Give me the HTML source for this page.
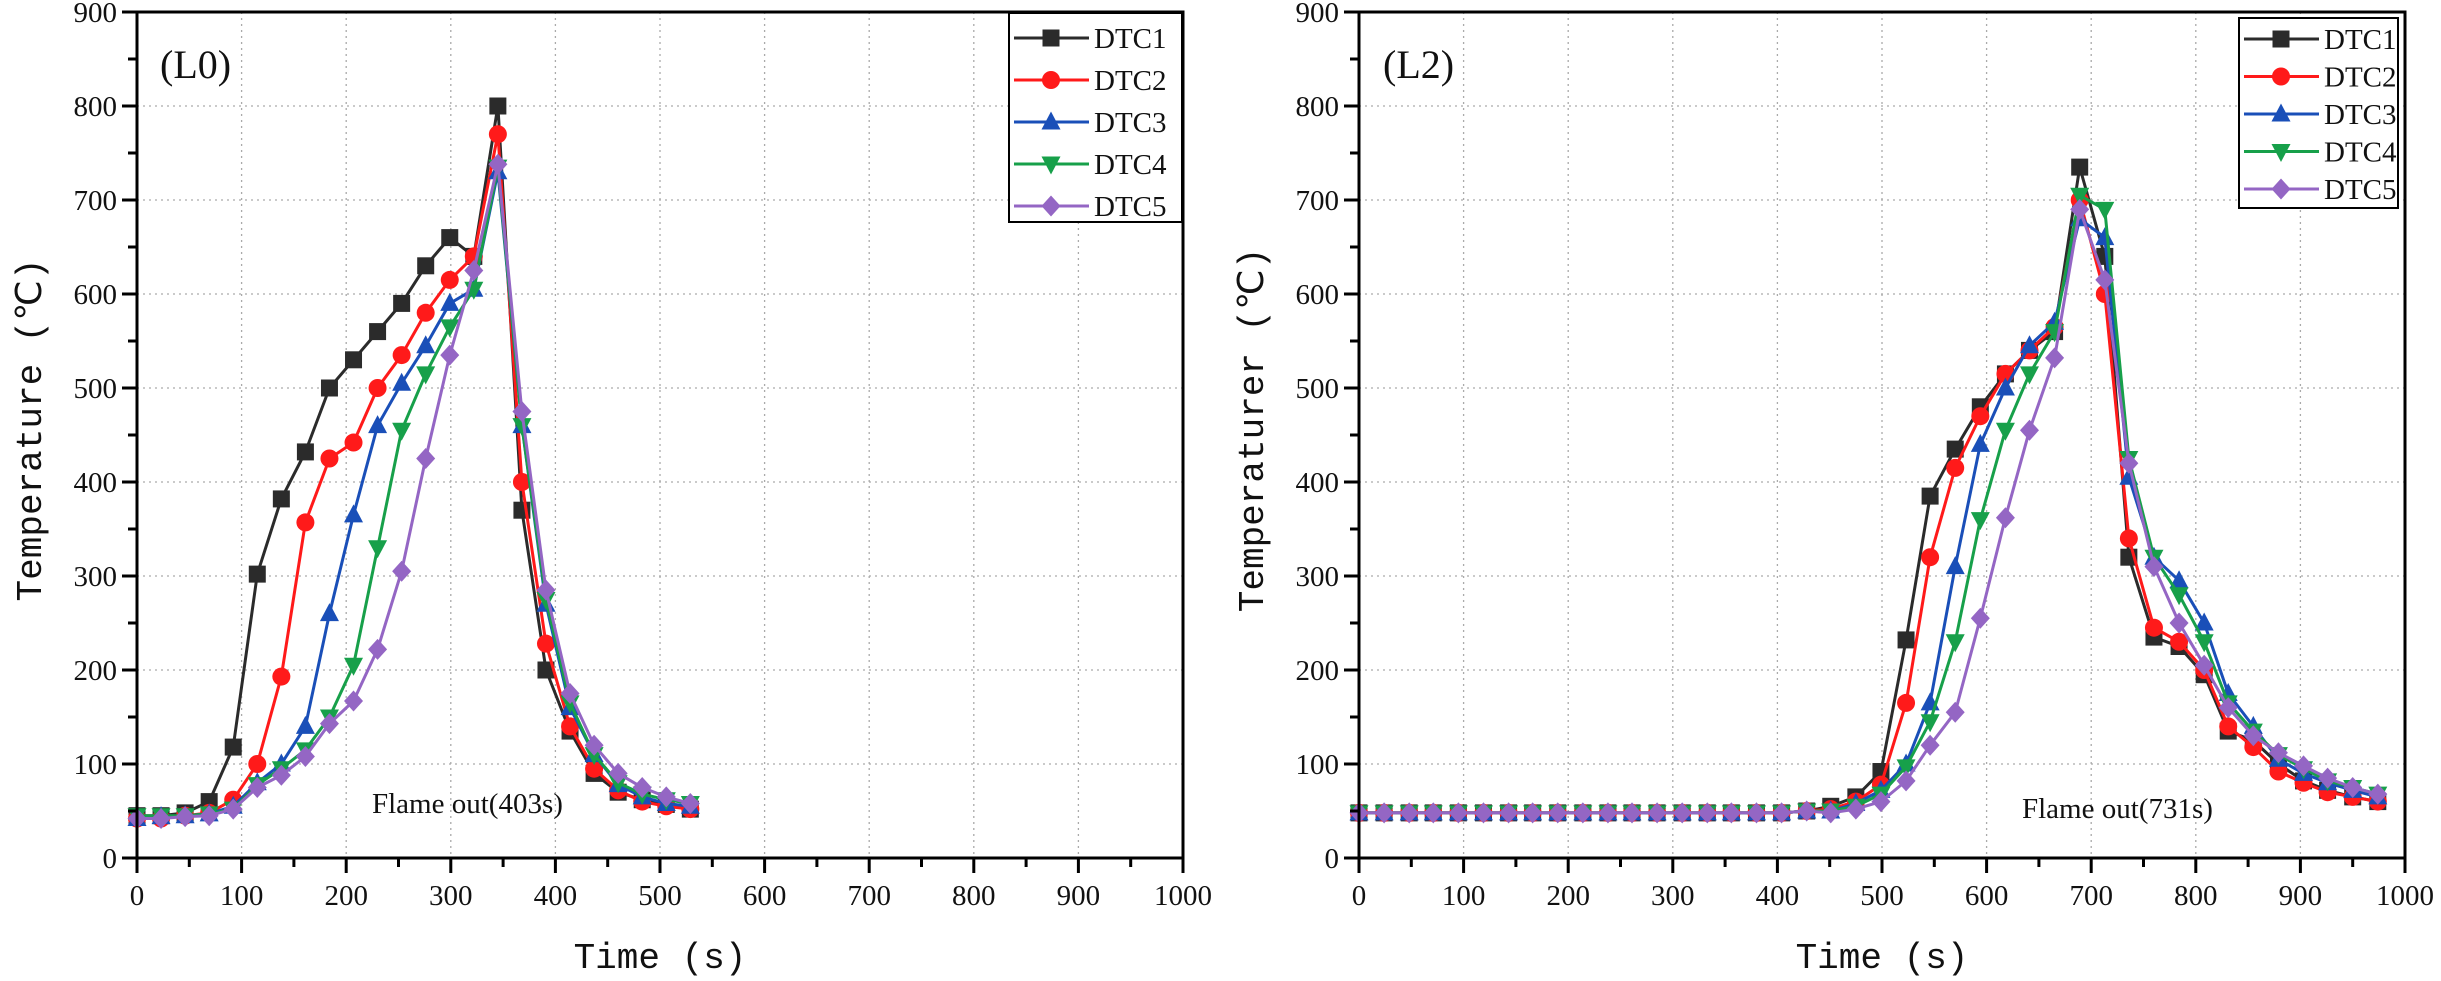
<!DOCTYPE html>
<html><head><meta charset="utf-8"><style>
html,body{margin:0;padding:0;background:#fff;}
svg{display:block;font-family:"Liberation Serif",serif;}
</style></head><body>
<svg id="c" width="2441" height="981" viewBox="0 0 2441 981" xmlns="http://www.w3.org/2000/svg"></svg>
<script>
const xTicks=[0,100,200,300,400,500,600,700,800,900,1000];
const yTicks=[0,100,200,300,400,500,600,700,800,900];
const seriesNames=["DTC1","DTC2","DTC3","DTC4","DTC5"];
const leftTimes=[0,23,46,69,92,115,138,161,184,207,230,253,276,299,322,345,368,391,414,437,460,483,506,529];
const leftDTC1=[45,45,48,60,118,302,382,432,500,530,560,590,630,660,640,800,370,200,135,90,70,62,57,52];
const leftDTC2=[42,42,45,48,62,100,193,357,425,442,500,535,580,615,640,770,400,228,140,95,72,60,55,52];
const leftDTC3=[42,44,45,47,55,80,100,140,260,365,460,505,545,590,605,730,460,270,160,110,78,65,58,55];
const leftDTC4=[45,45,45,47,52,78,95,115,150,205,330,455,515,565,605,735,460,275,165,110,80,68,62,58];
const leftDTC5=[42,42,44,45,52,75,88,108,143,167,222,305,425,535,625,738,475,285,175,120,90,75,65,58];
const rightTimes=[0,24,48,71,95,119,143,166,190,214,238,261,285,309,333,356,380,404,428,451,475,499,523,546,570,594,618,641,665,689,713,736,760,784,808,831,855,879,903,926,950,974];
const flat=[48,48,48,48,48,48,48,48,48,48,48,48,48,48,48,48,48,48,50];
const rightDTC1=flat.concat([55,65,92,232,385,435,480,515,540,560,735,640,320,235,225,195,135,125,100,82,72,65,60]);
const rightDTC2=flat.concat([52,60,78,165,320,415,470,515,540,565,700,600,340,245,230,200,140,118,92,80,70,65,60]);
const rightDTC3=flat.concat([50,58,72,100,165,310,440,500,545,570,680,660,405,320,295,250,175,140,105,90,80,72,65]);
const rightDTC4=flat.concat([50,55,68,97,145,230,360,455,515,560,705,690,425,320,280,230,165,135,110,95,82,75,68]);
const rightDTC5=flat.concat([48,52,60,82,120,155,255,362,455,532,690,615,420,310,250,205,160,130,112,98,85,75,68]);

const colors=["#2b2b2b","#ff1a1a","#1a4fb8","#17a04a","#9466c4"];
const shapes=["square","circle","triangle","tridown","diamond"];
const NS="http://www.w3.org/2000/svg";
const svg=document.getElementById("c");
function el(tag,attrs,parent,text){const e=document.createElementNS(NS,tag);for(const k in attrs)e.setAttribute(k,attrs[k]);if(text!==undefined)e.textContent=text;(parent||svg).appendChild(e);return e;}
function marker(g,shape,x,y,c){let m;const r=8.5;
 if(shape==="square")m=el("rect",{x:x-r,y:y-r,width:2*r,height:2*r,fill:c},g);
 else if(shape==="circle")m=el("circle",{cx:x,cy:y,r:r+0.5,fill:c},g);
 else if(shape==="triangle")m=el("polygon",{points:`${x},${y-r-2} ${x-r-1},${y+r-1} ${x+r+1},${y+r-1}`,fill:c},g);
 else if(shape==="tridown")m=el("polygon",{points:`${x},${y+r+2} ${x-r-1},${y-r+1} ${x+r+1},${y-r+1}`,fill:c},g);
 else m=el("polygon",{points:`${x},${y-r-2} ${x+r+1},${y} ${x},${y+r+2} ${x-r-1},${y}`,fill:c},g);
 
 
}
function chart(cfg){
 const X0=cfg.x0,X1=cfg.x1,Y0=858,Y1=12;
 const sx=t=>X0+(t/1000)*(X1-X0), sy=v=>Y0-(v/900)*(Y0-Y1);
 const g=el("g",{});
 
 
 xTicks.forEach(t=>{if(t>0&&t<1000){const l=el("line",{x1:sx(t),x2:sx(t),y1:Y1,y2:Y0,stroke:"#aaa","stroke-width":1.3,"stroke-dasharray":"2 4"},g);}});
 yTicks.forEach(v=>{if(v>0&&v<900){const l=el("line",{x1:X0,x2:X1,y1:sy(v),y2:sy(v),stroke:"#aaa","stroke-width":1.3,"stroke-dasharray":"2 4"},g);}});
 cfg.series.forEach((vals,i)=>{
  const sg=el("g",{},g);
  
  
  const pts=vals.map((v,k)=>sx(cfg.times[k]).toFixed(1)+","+sy(v).toFixed(1)).join(" ");
  const pl=el("polyline",{points:pts,fill:"none",stroke:colors[i],"stroke-width":3,"stroke-linejoin":"round"},sg);
  
  
  vals.forEach((v,k)=>marker(sg,shapes[i],sx(cfg.times[k]),sy(v),colors[i]));
 });
 const fr=el("rect",{x:X0,y:Y1,width:X1-X0,height:Y0-Y1,fill:"none",stroke:"#000","stroke-width":3},g);
 
 
 for(let t=0;t<=1000;t+=50){const maj=t%100===0;const l=el("line",{x1:sx(t),x2:sx(t),y1:Y0,y2:Y0+(maj?15:9),stroke:"#000","stroke-width":3},g);}
 for(let v=0;v<=900;v+=50){const maj=v%100===0;const l=el("line",{x1:X0-(maj?15:9),x2:X0,y1:sy(v),y2:sy(v),stroke:"#000","stroke-width":3},g);}
 xTicks.forEach(t=>{const tx=el("text",{x:sx(t),y:Y0+47,"font-size":29,"text-anchor":"middle",fill:"#111"},g,String(t));});
 yTicks.forEach(v=>{const tx=el("text",{x:X0-20,y:sy(v)+10,"font-size":29,"text-anchor":"end",fill:"#111"},g,String(v));});
 const xt=el("text",{x:(X0+X1)/2,y:968,"font-size":36,"text-anchor":"middle","font-family":"Liberation Mono, monospace",fill:"#111"},g,"Time (s)");
 
 const yt=el("text",{x:0,y:0,"font-size":36,"text-anchor":"middle","font-family":"Liberation Mono, monospace",fill:"#111",transform:`translate(${X0-96},${cfg.ytitleY}) rotate(-90)`},g,cfg.ytitle);
 
 const pl=el("text",{x:cfg.labelX,y:78,"font-size":40,fill:"#111"},g,cfg.label);
 
 const fo=el("text",{x:cfg.foX,y:cfg.foY,"font-size":29,fill:"#111"},g,cfg.fo);
 
 const lg=el("g",{},g);
 
 
 const L=cfg.leg;
 el("rect",{x:L.x,y:L.y,width:L.w,height:L.h,fill:"#fff",stroke:"#000","stroke-width":2},lg);
 seriesNames.forEach((n,i)=>{const yy=L.y+L.first+i*L.step;
  const e=el("g",{},lg);
  
  
  el("line",{x1:L.x+5,x2:L.x+80,y1:yy,y2:yy,stroke:colors[i],"stroke-width":3},e);
  marker(e,shapes[i],L.x+42,yy,colors[i]);
  el("text",{x:L.x+85,y:yy+10,"font-size":29,fill:"#111"},e,n);
 });
}
chart({name:"chart-l0",x0:137,x1:1183,times:leftTimes,series:[leftDTC1,leftDTC2,leftDTC3,leftDTC4,leftDTC5],
 ytitle:"Temperature (℃)",ytitleY:430,label:"(L0)",labelX:160,fo:"Flame out(403s)",foX:372,foY:813,
 leg:{x:1009,y:13,w:173,h:209,first:25,step:42}});
chart({name:"chart-l2",x0:1359,x1:2405,times:rightTimes,series:[rightDTC1,rightDTC2,rightDTC3,rightDTC4,rightDTC5],
 ytitle:"Temperaturer (℃)",ytitleY:430,label:"(L2)",labelX:1383,fo:"Flame out(731s)",foX:2022,foY:818,
 leg:{x:2239,y:18,w:159,h:190,first:21,step:37.5}});
</script>
</body></html>
